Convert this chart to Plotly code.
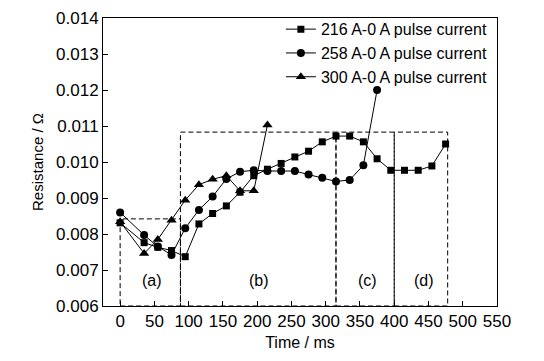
import plotly.graph_objects as go

# ---- data ----
t_216 = [0, 35, 55, 75, 95, 115, 135, 155, 175, 195, 215, 235, 255, 275, 295,
         315, 335, 355, 375, 395, 415, 435, 455, 475]
r_216 = [0.00831, 0.00776, 0.00763, 0.00754, 0.00737, 0.00828, 0.00857, 0.00878,
         0.00916, 0.00962, 0.00980, 0.00996, 0.01014, 0.01030, 0.01056, 0.01072,
         0.01072, 0.01056, 0.01009, 0.00977, 0.00977, 0.00977, 0.00989, 0.01050]

t_258 = [0, 35, 55, 75, 95, 115, 135, 155, 175, 195, 215, 235, 255, 275, 295,
         315, 335, 355, 375]
r_258 = [0.00860, 0.00797, 0.00765, 0.00742, 0.00816, 0.00867, 0.00904, 0.00953,
         0.00973, 0.00977, 0.00975, 0.00975, 0.00975, 0.00965, 0.00956, 0.00946,
         0.00950, 0.00991, 0.01200]

t_300 = [0, 35, 55, 75, 95, 115, 135, 155, 175, 195, 215]
r_300 = [0.00834, 0.00746, 0.00785, 0.00838, 0.00894, 0.00937, 0.00952, 0.00962,
         0.00920, 0.00920, 0.01103]

series_names = ["216 A-0 A pulse current", "258 A-0 A pulse current",
                "300 A-0 A pulse current"]

# stage regions (a)-(d): boundaries in ms and top resistance
region_labels = ["(a)", "(b)", "(c)", "(d)"]
region_x0 = [0, 88, 315, 400]
region_x1 = [88, 315, 400, 478]
region_top = [0.00842, 0.01083, 0.01083, 0.01083]
region_label_x = [47, 203, 361, 443]
region_label_y = 0.0067

x_ticks = [0, 50, 100, 150, 200, 250, 300, 350, 400, 450, 500, 550]
y_ticks = [0.006, 0.007, 0.008, 0.009, 0.010, 0.011, 0.012, 0.013, 0.014]

FONT = "Liberation Sans, Arial, sans-serif"

fig = go.Figure()
symbols = ["square", "circle", "triangle-up"]
sizes = [7, 8, 9]
for t, r, name, sym, sz in zip([t_216, t_258, t_300], [r_216, r_258, r_300],
                               series_names, symbols, sizes):
    fig.add_trace(go.Scatter(
        x=t, y=r, name=name, mode="lines+markers",
        line=dict(color="black", width=1),
        marker=dict(symbol=sym, size=sz, color="black"),
    ))

shapes = []
for x0, x1, top in zip(region_x0, region_x1, region_top):
    shapes.append(dict(type="rect", xref="x", yref="y", x0=x0, x1=x1,
                       y0=0.006, y1=top,
                       line=dict(color="black", width=1, dash="5px,3px"),
                       layer="below"))

annotations = []
for lab, lx in zip(region_labels, region_label_x):
    annotations.append(dict(x=lx, y=region_label_y, xref="x", yref="y",
                            text=lab, showarrow=False,
                            font=dict(family=FONT, size=16, color="black")))

# the page body adds an 8px offset; margins compensate for it
fig.update_layout(
    width=544, height=361,
    margin=dict(l=95, r=55, t=10, b=63, autoexpand=False),
    paper_bgcolor="white", plot_bgcolor="white",
    font=dict(family=FONT, size=16, color="black"),
    showlegend=True,
    legend=dict(x=0.987, y=1.02, xanchor="right", yanchor="top",
                bgcolor="rgba(0,0,0,0)", borderwidth=0,
                font=dict(family=FONT, size=16, color="black"),
                tracegroupgap=0, itemwidth=30),
    shapes=shapes,
    annotations=annotations,
)
fig.update_xaxes(
    range=[-25, 550], tickvals=x_ticks, ticks="inside", ticklen=5,
    tickcolor="black", showline=True, linecolor="black", linewidth=1,
    mirror=True, showgrid=False, zeroline=False, automargin=False,
    tickfont=dict(family=FONT, size=17),
    title=dict(text="Time / ms", font=dict(family=FONT, size=16), standoff=6),
)
fig.update_yaxes(
    range=[0.006, 0.014], tickvals=y_ticks, tickformat=".3f", ticks="inside",
    ticklen=5, tickcolor="black", showline=True, linecolor="black", linewidth=1,
    mirror=True, showgrid=False, zeroline=False, automargin=False,
    tickfont=dict(family=FONT, size=17),
    title=dict(text="Resistance / Ω", font=dict(family=FONT, size=15), standoff=8),
)

fig.write_html("out.html")
